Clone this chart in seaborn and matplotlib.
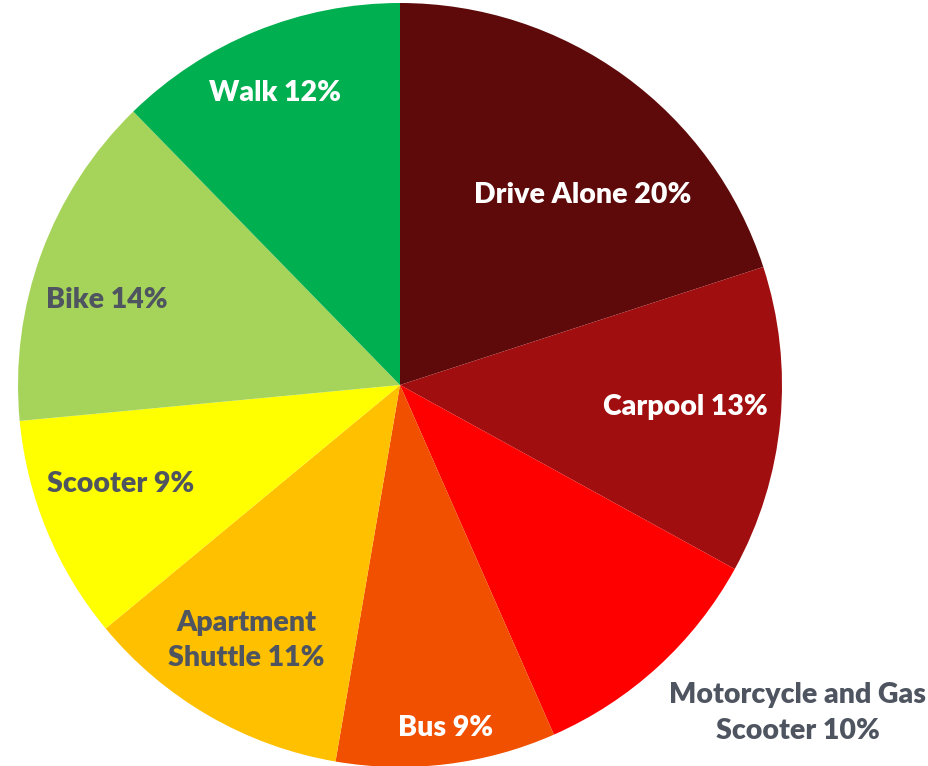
import numpy as np
import matplotlib.pyplot as plt
import seaborn as sns

# Commute mode shares (clockwise from 12 o'clock)
modes = ['Drive Alone', 'Carpool', 'Motorcycle and Gas\nScooter', 'Bus',
         'Apartment\nShuttle', 'Scooter', 'Bike', 'Walk']
shares = [20.0, 13.0, 10.4, 9.3, 11.3, 9.5, 14.2, 12.3]
pct_labels = ['20%', '13%', '10%', '9%', '11%', '9%', '14%', '12%']

colors = ['#5E0A0B', '#A10E0F', '#FF0000', '#F05000',
          '#FFC000', '#FFFF00', '#A6D45A', '#00B050']
text_colors = ['white', 'white', '#4F5560', 'white',
               '#4F5560', '#4F5560', '#4F5560', 'white']
# radial position of each label (fraction of radius)
label_dist = [0.69, 0.75, 1.35, 0.905, 0.78, 0.775, 0.80, 0.83]
# small angular nudges (degrees) to mimic the best-fit placement
label_nudge = [-8, 1, 8, 0.5, -1, -3, 4, 1]

sns.set_theme(style='white')
plt.rcParams['font.family'] = ['Lato', 'DejaVu Sans']

W, H, dpi = 929, 766, 100
fig = plt.figure(figsize=(W / dpi, H / dpi), dpi=dpi)
ax = fig.add_axes([0, 0, 1, 1])

wedges, _ = ax.pie(shares, colors=colors, startangle=90, counterclock=False,
                   radius=1, wedgeprops=dict(linewidth=0))

# pie centre at (400, 385) px from top-left, radius 382 px
cx, cy, r = 400, 385, 382
ax.set_xlim(-cx / r, (W - cx) / r)
ax.set_ylim(-(H - cy) / r, cy / r)
ax.axis('off')

for w, name, pct, tc, d, nd in zip(wedges, modes, pct_labels, text_colors,
                                    label_dist, label_nudge):
    mid = np.deg2rad((w.theta1 + w.theta2) / 2 + nd)
    ax.text(d * np.cos(mid), d * np.sin(mid), f'{name} {pct}',
            ha='center', va='center', color=tc, fontsize=20.5,
            fontweight='heavy', linespacing=1.45)

fig.savefig('out.png', dpi=dpi)
